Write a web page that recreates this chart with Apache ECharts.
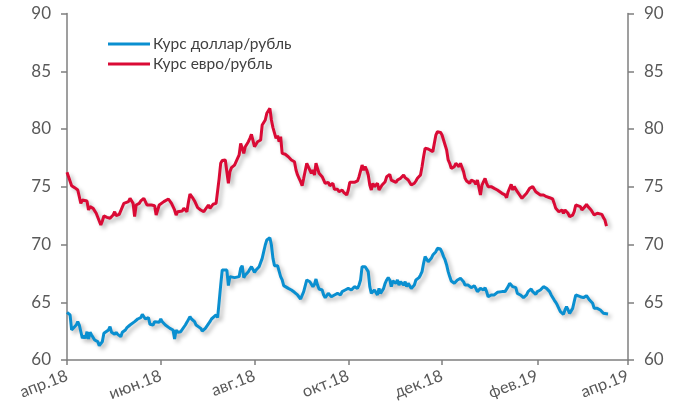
<!DOCTYPE html>
<html><head><meta charset="utf-8">
<script src="https://cdn.jsdelivr.net/npm/echarts@6/dist/echarts.min.js"></script>
<style>html,body{margin:0;padding:0;background:#fff}#c{width:682px;height:412px}</style>
</head><body><div id="c"></div>
<script>
const seriesNames = ['Курс доллар/рубль', 'Курс евро/рубль'];
const xTickDates = ['2018-04-01','2018-06-01','2018-08-01','2018-10-01','2018-12-01','2019-02-01','2019-04-01'];
const xTickLabels = ['апр.18','июн.18','авг.18','окт.18','дек.18','фев.19','апр.19'];
const yTicks = [60, 65, 70, 75, 80, 85, 90];

const usdDates = ['2018-04-01','2018-04-03','2018-04-04','2018-04-05','2018-04-07','2018-04-08','2018-04-09','2018-04-11','2018-04-12','2018-04-13','2018-04-14','2018-04-15','2018-04-16','2018-04-17','2018-04-18','2018-04-19','2018-04-20','2018-04-21','2018-04-22','2018-04-24','2018-04-25','2018-04-26','2018-04-28','2018-04-29','2018-04-30',
'2018-05-01','2018-05-02','2018-05-03','2018-05-04','2018-05-06','2018-05-07','2018-05-09','2018-05-10','2018-05-12','2018-05-13','2018-05-15','2018-05-16','2018-05-17','2018-05-19','2018-05-20','2018-05-22','2018-05-23','2018-05-24','2018-05-25','2018-05-27','2018-05-28','2018-05-29','2018-05-31',
'2018-06-01','2018-06-02','2018-06-04','2018-06-05','2018-06-07','2018-06-09','2018-06-10','2018-06-11','2018-06-12','2018-06-14','2018-06-15','2018-06-17','2018-06-18','2018-06-20','2018-06-21','2018-06-23','2018-06-24','2018-06-25','2018-06-27','2018-06-28','2018-06-30',
'2018-07-01','2018-07-03','2018-07-04','2018-07-05','2018-07-07','2018-07-08','2018-07-09','2018-07-10','2018-07-11','2018-07-12','2018-07-14','2018-07-15','2018-07-16','2018-07-17','2018-07-19','2018-07-20','2018-07-22','2018-07-23','2018-07-24','2018-07-25','2018-07-26','2018-07-28','2018-07-29','2018-07-30','2018-07-31',
'2018-08-01','2018-08-02','2018-08-03','2018-08-04','2018-08-05','2018-08-06','2018-08-07','2018-08-08','2018-08-09','2018-08-11','2018-08-12','2018-08-13','2018-08-14','2018-08-15','2018-08-16','2018-08-17','2018-08-18','2018-08-19','2018-08-20','2018-08-21','2018-08-23','2018-08-24','2018-08-25','2018-08-26','2018-08-27','2018-08-28','2018-08-29','2018-08-30','2018-08-31',
'2018-09-01','2018-09-02','2018-09-04','2018-09-05','2018-09-06','2018-09-07','2018-09-08','2018-09-09','2018-09-10','2018-09-11','2018-09-12','2018-09-13','2018-09-14','2018-09-15','2018-09-16','2018-09-18','2018-09-19','2018-09-20','2018-09-21','2018-09-22','2018-09-23','2018-09-24','2018-09-25','2018-09-26','2018-09-27','2018-09-28','2018-09-29','2018-09-30',
'2018-10-01','2018-10-02','2018-10-03','2018-10-05','2018-10-06','2018-10-07','2018-10-08','2018-10-09','2018-10-10','2018-10-11','2018-10-12','2018-10-13','2018-10-14','2018-10-15','2018-10-16','2018-10-18','2018-10-19','2018-10-20','2018-10-21','2018-10-22','2018-10-23','2018-10-24','2018-10-25','2018-10-26','2018-10-27','2018-10-28','2018-10-29','2018-10-30',
'2018-11-01','2018-11-02','2018-11-03','2018-11-04','2018-11-05','2018-11-06','2018-11-07','2018-11-08','2018-11-09','2018-11-10','2018-11-11','2018-11-13','2018-11-14','2018-11-15','2018-11-16','2018-11-17','2018-11-18','2018-11-19','2018-11-20','2018-11-21','2018-11-22','2018-11-23','2018-11-24','2018-11-25','2018-11-27','2018-11-28','2018-11-29','2018-11-30',
'2018-12-01','2018-12-02','2018-12-03','2018-12-04','2018-12-05','2018-12-06','2018-12-07','2018-12-09','2018-12-10','2018-12-11','2018-12-12','2018-12-13','2018-12-14','2018-12-15','2018-12-16','2018-12-17','2018-12-18','2018-12-19','2018-12-20','2018-12-22','2018-12-23','2018-12-24','2018-12-26','2018-12-27','2018-12-28','2018-12-29','2018-12-30','2018-12-31',
'2019-01-01','2019-01-02','2019-01-03','2019-01-04','2019-01-05','2019-01-06','2019-01-07','2019-01-09','2019-01-10','2019-01-11','2019-01-12','2019-01-13','2019-01-14','2019-01-15','2019-01-16','2019-01-17','2019-01-18','2019-01-19','2019-01-21','2019-01-22','2019-01-23','2019-01-24','2019-01-25','2019-01-26','2019-01-27','2019-01-28','2019-01-29','2019-01-30','2019-01-31',
'2019-02-01','2019-02-03','2019-02-04','2019-02-05','2019-02-06','2019-02-07','2019-02-08','2019-02-09','2019-02-10','2019-02-11','2019-02-12','2019-02-13','2019-02-14','2019-02-15','2019-02-16','2019-02-18','2019-02-19','2019-02-20','2019-02-21','2019-02-22','2019-02-23','2019-02-24','2019-02-25','2019-02-26','2019-02-27',
'2019-03-01','2019-03-02','2019-03-03','2019-03-04','2019-03-05','2019-03-06','2019-03-07','2019-03-08','2019-03-09','2019-03-10','2019-03-11','2019-03-12','2019-03-13','2019-03-14','2019-03-15','2019-03-16','2019-03-17','2019-03-19'];
const usdValues = [64.13,63.90,62.60,62.74,63.03,63.32,63.03,61.88,62.11,61.88,62.45,61.82,62.40,62.16,62.11,61.73,61.88,61.59,61.24,61.59,62.31,62.45,62.60,62.89,62.40,
62.40,62.22,62.40,62.22,62.02,62.40,62.60,62.80,63.03,62.89,63.32,63.32,63.55,63.67,63.95,63.55,63.61,63.67,63.09,63.03,63.32,63.17,63.26,
63.55,63.32,63.03,62.97,62.74,62.60,61.82,62.60,62.40,62.45,62.60,63.03,63.26,63.75,63.55,63.32,63.03,62.97,62.74,62.51,62.74,
62.74,63.32,63.55,63.67,63.90,63.67,65.05,66.49,67.79,67.88,67.79,66.44,67.22,67.07,67.13,67.13,67.22,67.94,68.17,67.13,67.36,67.65,67.88,68.08,68.23,
67.59,67.79,67.94,68.08,68.17,68.80,69.38,69.96,70.39,70.59,69.96,68.80,68.17,68.08,68.17,68.08,67.22,66.93,66.44,66.35,66.20,66.26,66.06,65.97,65.86,65.69,65.63,65.48,65.28,
65.11,65.92,66.93,66.78,66.78,66.64,66.35,66.55,67.01,66.49,66.15,66.06,66.06,65.63,65.40,65.77,65.69,65.48,65.40,65.63,65.63,65.77,65.77,65.63,65.92,65.92,66.06,65.92,
66.20,66.26,66.06,66.35,66.20,66.20,66.49,66.93,68.08,67.94,68.08,67.94,67.65,66.35,65.77,66.06,65.92,65.63,66.20,65.77,65.63,66.20,66.64,66.93,67.13,66.93,66.35,66.84,
66.64,66.93,66.49,66.78,66.64,66.49,66.78,66.35,66.64,66.49,66.20,66.49,66.93,67.07,67.13,67.36,67.65,68.37,68.95,68.80,68.51,68.66,68.80,69.09,69.38,69.67,69.81,69.61,
69.32,68.95,68.66,68.23,67.65,67.22,66.84,66.64,66.78,66.93,67.01,67.07,67.13,66.78,66.49,66.35,66.49,66.35,66.26,66.44,66.20,65.92,66.20,66.35,66.06,66.26,65.92,65.48,
65.63,65.63,65.48,65.63,65.69,65.86,65.86,65.92,65.77,65.92,65.92,66.35,66.64,66.78,66.35,66.20,66.26,65.77,65.63,65.48,65.40,65.48,65.63,65.92,66.06,66.15,65.92,65.77,65.69,
65.92,66.06,66.20,66.35,66.26,66.20,66.06,65.92,65.63,65.48,65.19,64.99,64.76,64.47,64.18,63.95,64.33,64.62,64.33,64.04,64.18,64.47,65.05,65.63,65.77,
65.48,65.34,65.40,65.48,65.57,65.48,65.19,65.05,64.91,64.47,64.53,64.47,64.47,64.33,64.18,64.04,63.95,63.98];

const eurDates = ['2018-04-01','2018-04-02','2018-04-04','2018-04-06','2018-04-07','2018-04-08','2018-04-10','2018-04-11','2018-04-12','2018-04-14','2018-04-15','2018-04-16','2018-04-18','2018-04-20','2018-04-21','2018-04-23','2018-04-24','2018-04-25','2018-04-27','2018-04-29',
'2018-05-01','2018-05-02','2018-05-03','2018-05-05','2018-05-06','2018-05-08','2018-05-09','2018-05-11','2018-05-12','2018-05-14','2018-05-15','2018-05-16','2018-05-18','2018-05-19','2018-05-21','2018-05-22','2018-05-23','2018-05-24','2018-05-26','2018-05-28','2018-05-29','2018-05-31',
'2018-06-01','2018-06-03','2018-06-04','2018-06-06','2018-06-07','2018-06-08','2018-06-10','2018-06-11','2018-06-12','2018-06-13','2018-06-15','2018-06-16','2018-06-18','2018-06-19','2018-06-20','2018-06-22','2018-06-23','2018-06-24','2018-06-25','2018-06-27','2018-06-29','2018-06-30',
'2018-07-02','2018-07-03','2018-07-05','2018-07-07','2018-07-08','2018-07-09','2018-07-10','2018-07-11','2018-07-13','2018-07-14','2018-07-15','2018-07-16','2018-07-17','2018-07-19','2018-07-20','2018-07-22','2018-07-23','2018-07-24','2018-07-25','2018-07-26','2018-07-28','2018-07-29','2018-07-30','2018-07-31',
'2018-08-01','2018-08-02','2018-08-03','2018-08-04','2018-08-05','2018-08-06','2018-08-07','2018-08-08','2018-08-09','2018-08-11','2018-08-12','2018-08-13','2018-08-14','2018-08-15','2018-08-16','2018-08-17','2018-08-18','2018-08-19','2018-08-20','2018-08-21','2018-08-23','2018-08-24','2018-08-25','2018-08-26','2018-08-27','2018-08-28','2018-08-29','2018-08-30','2018-08-31',
'2018-09-01','2018-09-02','2018-09-04','2018-09-05','2018-09-06','2018-09-07','2018-09-08','2018-09-09','2018-09-10','2018-09-11','2018-09-12','2018-09-13','2018-09-14','2018-09-15','2018-09-16','2018-09-18','2018-09-19','2018-09-20','2018-09-21','2018-09-22','2018-09-23','2018-09-24','2018-09-25','2018-09-26','2018-09-27','2018-09-28','2018-09-29','2018-09-30',
'2018-10-01','2018-10-02','2018-10-05','2018-10-07','2018-10-08','2018-10-10','2018-10-11','2018-10-12','2018-10-13','2018-10-14','2018-10-15','2018-10-16','2018-10-17','2018-10-18','2018-10-20','2018-10-21','2018-10-22','2018-10-23','2018-10-25','2018-10-26','2018-10-27','2018-10-28','2018-10-29','2018-10-30',
'2018-11-01','2018-11-02','2018-11-03','2018-11-04','2018-11-05','2018-11-06','2018-11-07','2018-11-08','2018-11-09','2018-11-10','2018-11-11','2018-11-13','2018-11-14','2018-11-15','2018-11-16','2018-11-17','2018-11-18','2018-11-19','2018-11-20','2018-11-22','2018-11-23','2018-11-25','2018-11-26','2018-11-27','2018-11-28','2018-11-29','2018-11-30',
'2018-12-01','2018-12-02','2018-12-03','2018-12-04','2018-12-05','2018-12-06','2018-12-07','2018-12-09','2018-12-10','2018-12-11','2018-12-12','2018-12-13','2018-12-14','2018-12-15','2018-12-16','2018-12-17','2018-12-18','2018-12-19','2018-12-20','2018-12-22','2018-12-23','2018-12-24','2018-12-26','2018-12-27','2018-12-28','2018-12-29','2018-12-30','2018-12-31',
'2019-01-02','2019-01-04','2019-01-06','2019-01-09','2019-01-11','2019-01-12','2019-01-13','2019-01-15','2019-01-16','2019-01-17','2019-01-19','2019-01-22','2019-01-23','2019-01-25','2019-01-27','2019-01-29','2019-01-30','2019-01-31',
'2019-02-01','2019-02-03','2019-02-05','2019-02-07','2019-02-09','2019-02-11','2019-02-12','2019-02-13','2019-02-14','2019-02-15','2019-02-17','2019-02-18','2019-02-19','2019-02-21','2019-02-22','2019-02-24','2019-02-25','2019-02-26','2019-02-27',
'2019-03-01','2019-03-02','2019-03-03','2019-03-04','2019-03-05','2019-03-06','2019-03-07','2019-03-08','2019-03-09','2019-03-10','2019-03-12','2019-03-13','2019-03-15','2019-03-16','2019-03-17','2019-03-18'];
const eurValues = [76.25,76.36,75.09,74.92,75.00,74.72,73.56,73.85,73.71,73.77,72.99,73.28,73.13,72.70,72.55,71.69,72.03,72.47,72.35,72.27,
72.55,72.84,72.50,72.61,72.70,73.56,73.48,73.71,74.00,73.56,72.41,73.42,73.56,73.77,74.00,73.71,73.42,73.56,73.42,73.36,72.55,73.42,
73.56,73.71,73.65,73.94,73.85,73.56,72.99,72.55,72.84,72.99,72.90,73.13,72.84,73.65,74.37,73.99,73.77,73.71,73.19,72.99,72.84,72.78,
73.42,73.13,73.48,73.56,73.65,75.73,77.03,77.27,77.32,77.32,75.30,76.31,76.65,76.88,77.03,77.75,78.76,78.33,77.89,78.47,78.90,79.19,79.54,79.48,
78.47,78.61,78.90,79.05,79.05,80.35,80.40,80.78,81.36,81.79,80.78,80.12,80.06,79.19,79.42,78.90,79.34,77.89,78.04,77.81,77.60,77.75,77.32,77.46,77.17,76.45,76.02,75.73,75.44,
75.09,75.73,77.03,76.88,76.45,76.16,76.45,76.02,77.03,76.59,76.16,76.02,75.87,75.73,75.30,75.38,75.09,75.15,75.30,74.78,74.92,74.78,74.57,74.57,74.72,74.52,74.57,74.29,
74.72,75.38,75.38,75.50,75.87,76.88,76.45,76.74,76.45,76.02,75.15,74.72,75.30,75.01,75.30,74.72,74.86,75.15,75.44,75.87,76.02,76.07,75.58,75.73,
75.38,75.58,75.50,75.73,75.58,76.02,75.79,75.73,75.58,75.67,75.15,75.30,75.50,75.73,75.87,76.02,76.74,77.60,78.33,78.27,78.18,78.04,78.18,79.48,79.77,79.91,79.71,
79.48,79.05,78.61,78.18,77.32,77.03,76.59,76.74,77.03,76.88,76.74,77.03,76.88,76.31,75.73,75.50,75.38,75.30,75.58,75.44,75.21,75.58,74.29,75.15,75.44,75.73,75.30,75.01,
75.01,74.86,74.72,74.43,74.29,74.05,74.57,75.21,74.72,75.01,74.57,74.00,74.14,74.43,74.86,75.01,74.86,74.57,
74.57,74.29,74.29,74.14,74.05,73.94,73.56,73.13,72.99,72.84,72.99,72.70,72.99,72.70,72.41,72.55,72.84,73.42,73.56,
73.28,72.99,73.13,73.28,73.48,73.28,73.13,72.99,72.99,72.55,72.70,72.55,72.61,72.32,72.12,71.60];

function ts(s) { const p = s.split('-'); return Date.UTC(+p[0], +p[1] - 1, +p[2]); }
const tickTs = xTickDates.map(ts);
function pairs(d, v) { return d.map((x, i) => [ts(x), v[i]]); }

const FONT = 'Lato';
const AX = '#7f7f7f';
const TXT = '#595959';
const shadow = { shadowColor: 'rgba(0,0,0,0.28)', shadowBlur: 4, shadowOffsetX: 3, shadowOffsetY: 3 };

function yAxis(pos) {
  return {
    type: 'value', position: pos, min: yTicks[0], max: yTicks[yTicks.length - 1], interval: 5,
    axisLine: { show: true, lineStyle: { color: AX, width: 1.5 } },
    axisTick: { show: true, inside: false, length: 6, lineStyle: { color: AX, width: 1.5 } },
    axisLabel: { margin: 16, color: TXT, fontSize: 17, fontFamily: FONT },
    splitLine: { show: false }
  };
}

const chart = echarts.init(document.getElementById('c'), null, { renderer: 'canvas' });
chart.setOption({
  animation: false,
  backgroundColor: '#fff',
  grid: { left: 67, right: 54, top: 13.5, bottom: 52, containLabel: false },
  legend: {
    orient: 'vertical', left: 108, top: 36, padding: 0, itemWidth: 42, itemHeight: 3, itemGap: 4, icon: 'rect',
    data: seriesNames,
    textStyle: { fontFamily: FONT, fontSize: 15.5, color: '#404040', padding: [0, 0, 0, -2] }
  },
  xAxis: {
    type: 'value', min: tickTs[0], max: tickTs[tickTs.length - 1],
    axisLine: { show: true, lineStyle: { color: AX, width: 1.5 } },
    axisTick: { show: true, customValues: tickTs, length: 5, lineStyle: { color: AX, width: 1.5 } },
    axisLabel: {
      customValues: tickTs, rotate: 21, margin: 15, color: TXT, fontSize: 16.5, fontFamily: FONT,
      formatter: function (val) {
        let best = 0;
        for (let i = 1; i < tickTs.length; i++) if (Math.abs(tickTs[i] - val) < Math.abs(tickTs[best] - val)) best = i;
        return xTickLabels[best];
      }
    },
    splitLine: { show: false }
  },
  yAxis: [yAxis('left'), yAxis('right')],
  series: [
    { name: seriesNames[0], type: 'line', yAxisIndex: 0, showSymbol: false, symbol: 'none',
      color: '#0A8FD0', lineStyle: Object.assign({ width: 3, color: '#0A8FD0' }, shadow),
      data: pairs(usdDates, usdValues) },
    { name: seriesNames[1], type: 'line', yAxisIndex: 0, showSymbol: false, symbol: 'none',
      color: '#DA0A35', lineStyle: Object.assign({ width: 3, color: '#DA0A35' }, shadow),
      data: pairs(eurDates, eurValues) }
  ]
});
</script>
</body></html>
